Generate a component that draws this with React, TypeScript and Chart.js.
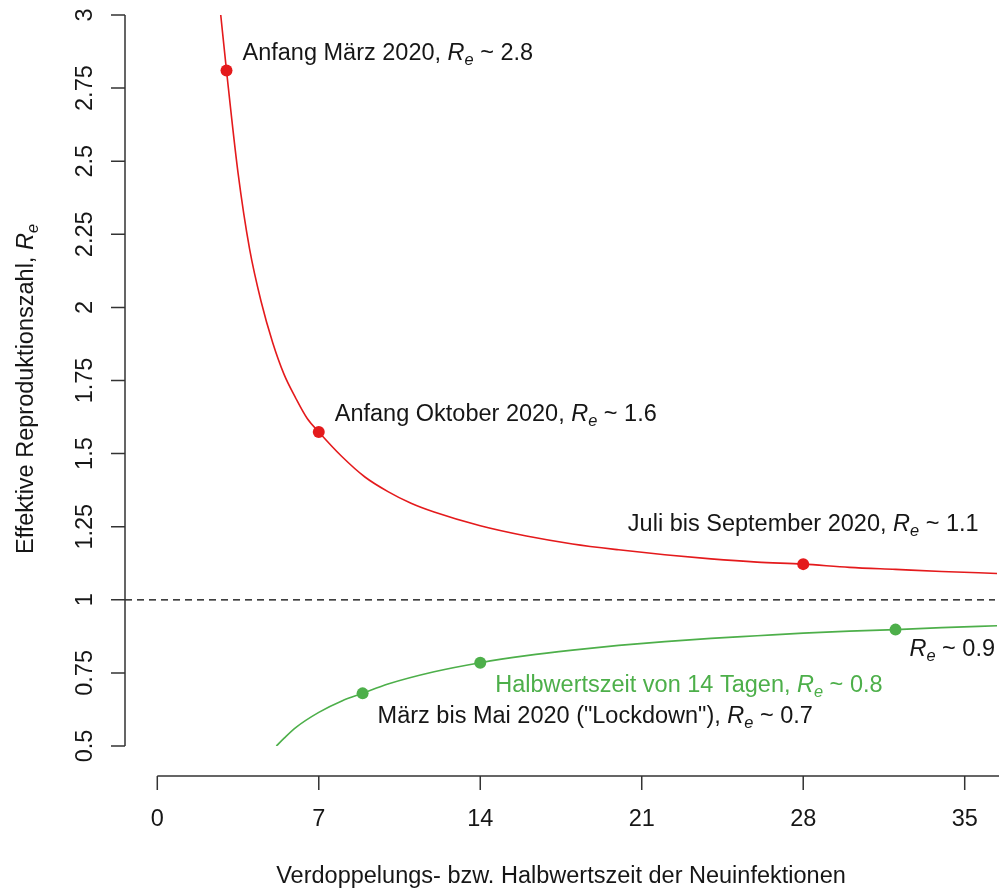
import React, { useEffect, useRef } from "react";
import { Chart, registerables } from "chart.js";
Chart.register(...registerables);

// ---- data ----
const redX = [2.75, 3, 3.5, 4, 4.5, 5, 5.5, 6, 6.5, 7, 8, 9, 10, 11, 12, 14, 16, 18, 20, 22, 24, 26, 28, 30, 32, 34, 36.4];
const redY = [3.0, 2.81, 2.46, 2.2, 2.02, 1.88, 1.77, 1.69, 1.62, 1.574, 1.49, 1.42, 1.37, 1.33, 1.3, 1.253, 1.218, 1.191, 1.171, 1.154, 1.14, 1.129, 1.122, 1.111, 1.104, 1.097, 1.09];
const greenX = [5.16, 5.5, 6, 7, 8, 8.9, 10, 12, 14, 16, 18, 20, 22, 24, 26, 28, 30, 32, 34, 36.4];
const greenY = [0.5, 0.527, 0.563, 0.615, 0.654, 0.68, 0.712, 0.754, 0.785, 0.809, 0.828, 0.844, 0.857, 0.868, 0.877, 0.886, 0.893, 0.898, 0.905, 0.911];

const redPtX = [3, 7, 28];
const redPtY = [2.81, 1.574, 1.122];
const greenPtX = [8.9, 14, 32];
const greenPtY = [0.68, 0.785, 0.898];

const xTicks = [0, 7, 14, 21, 28, 35];
const xTickLabels = ["0", "7", "14", "21", "28", "35"];
const yTicks = [0.5, 0.75, 1, 1.25, 1.5, 1.75, 2, 2.25, 2.5, 2.75, 3];
const yTickLabels = ["0.5", "0.75", "1", "1.25", "1.5", "1.75", "2", "2.25", "2.5", "2.75", "3"];

const xTitle = "Verdoppelungs- bzw. Halbwertszeit der Neuinfektionen";
const yTitlePrefix = "Effektive Reproduktionszahl, ";

const redLabelPrefix = ["Anfang März 2020, ", "Anfang Oktober 2020, ", "Juli bis September 2020, "];
const redLabelValue = ["2.8", "1.6", "1.1"];
const greenLabelPrefix = ["März bis Mai 2020 (\"Lockdown\"), ", "Halbwertszeit von 14 Tagen, ", ""];
const greenLabelValue = ["0.7", "0.8", "0.9"];

const RED = "#E41A1C";
const GREEN = "#4DAF4A";
const INK = "#161616";
const AXIS = "#333333";
const FONT = '"Liberation Sans", Arial, Helvetica, sans-serif';
const FS = 23.5;

type Seg = { t: string; s: "n" | "i" | "s" };

function fontFor(s: string) {
  if (s === "i") return `italic ${FS}px ${FONT}`;
  if (s === "s") return `italic ${(FS * 0.7).toFixed(1)}px ${FONT}`;
  return `${FS}px ${FONT}`;
}

function reSegs(prefix: string, value?: string): Seg[] {
  const out: Seg[] = [];
  if (prefix) out.push({ t: prefix, s: "n" });
  out.push({ t: "R", s: "i" });
  out.push({ t: "e", s: "s" });
  if (value !== undefined) out.push({ t: " ~ " + value, s: "n" });
  return out;
}

function drawSegs(ctx: CanvasRenderingContext2D, segs: Seg[], x: number, y: number, align: "left" | "center", color: string) {
  const widths = segs.map((sg) => {
    ctx.font = fontFor(sg.s);
    return ctx.measureText(sg.t).width;
  });
  const total = widths.reduce((a, b) => a + b, 0);
  let cx = align === "center" ? x - total / 2 : x;
  ctx.fillStyle = color;
  ctx.textAlign = "left";
  ctx.textBaseline = "alphabetic";
  segs.forEach((sg, i) => {
    ctx.font = fontFor(sg.s);
    ctx.fillText(sg.t, cx, sg.s === "s" ? y + 5 : y);
    cx += widths[i];
  });
}

const decorPlugin = {
  id: "decor",
  beforeDatasetsDraw(chart: any) {
    const { ctx, chartArea, scales } = chart;
    const ys = scales.y;
    ctx.save();
    ctx.strokeStyle = "#000";
    ctx.lineWidth = 1.3;
    ctx.setLineDash([7, 5]);
    const y1 = ys.getPixelForValue(1);
    ctx.beginPath();
    ctx.moveTo(chartArea.left, y1);
    ctx.lineTo(chartArea.right - 2, y1);
    ctx.stroke();
    ctx.restore();
  },
  afterDatasetsDraw(chart: any) {
    const { ctx, chartArea, scales } = chart;
    const xs = scales.x;
    const ys = scales.y;
    ctx.save();
    // y axis
    ctx.strokeStyle = AXIS;
    ctx.lineWidth = 1.5;
    ctx.setLineDash([]);
    const left = chartArea.left;
    ctx.beginPath();
    ctx.moveTo(left, ys.getPixelForValue(yTicks[0]));
    ctx.lineTo(left, ys.getPixelForValue(yTicks[yTicks.length - 1]));
    yTicks.forEach((v) => {
      const py = ys.getPixelForValue(v);
      ctx.moveTo(left, py);
      ctx.lineTo(left - 14, py);
    });
    ctx.stroke();
    // x axis
    const ax = chartArea.bottom + 30;
    ctx.beginPath();
    ctx.moveTo(xs.getPixelForValue(xTicks[0]), ax);
    ctx.lineTo(chartArea.right + 2, ax);
    xTicks.forEach((v) => {
      const px = xs.getPixelForValue(v);
      ctx.moveTo(px, ax);
      ctx.lineTo(px, ax + 14);
    });
    ctx.stroke();

    // tick labels
    ctx.fillStyle = INK;
    ctx.font = `${FS}px ${FONT}`;
    ctx.textAlign = "center";
    ctx.textBaseline = "alphabetic";
    xTicks.forEach((v, i) => {
      ctx.fillText(xTickLabels[i], xs.getPixelForValue(v), ax + 50);
    });
    yTicks.forEach((v, i) => {
      const py = ys.getPixelForValue(v);
      ctx.save();
      ctx.translate(left - 33, py);
      ctx.rotate(-Math.PI / 2);
      ctx.textAlign = "center";
      ctx.fillText(yTickLabels[i], 0, 0);
      ctx.restore();
    });

    // axis titles
    ctx.font = `${FS}px ${FONT}`;
    ctx.textAlign = "center";
    ctx.fillText(xTitle, 561, ax + 107);
    ctx.save();
    ctx.translate(33, 389);
    ctx.rotate(-Math.PI / 2);
    drawSegs(ctx, reSegs(yTitlePrefix), 0, 0, "center", INK);
    ctx.restore();

    // annotations for red points
    const rp = redPtX.map((x, i) => ({ x: xs.getPixelForValue(x), y: ys.getPixelForValue(redPtY[i]) }));
    drawSegs(ctx, reSegs(redLabelPrefix[0], redLabelValue[0]), rp[0].x + 16, rp[0].y - 10.5, "left", INK);
    drawSegs(ctx, reSegs(redLabelPrefix[1], redLabelValue[1]), rp[1].x + 16, rp[1].y - 10.5, "left", INK);
    drawSegs(ctx, reSegs(redLabelPrefix[2], redLabelValue[2]), rp[2].x, rp[2].y - 33.5, "center", INK);

    const gp = greenPtX.map((x, i) => ({ x: xs.getPixelForValue(x), y: ys.getPixelForValue(greenPtY[i]) }));
    drawSegs(ctx, reSegs(greenLabelPrefix[0], greenLabelValue[0]), gp[0].x + 15, gp[0].y + 30, "left", INK);
    drawSegs(ctx, reSegs(greenLabelPrefix[1], greenLabelValue[1]), gp[1].x + 15, gp[1].y + 29, "left", GREEN);
    drawSegs(ctx, reSegs(greenLabelPrefix[2], greenLabelValue[2]), gp[2].x + 14, gp[2].y + 26, "left", INK);
    ctx.restore();
  },
};

export default function App() {
  const ref = useRef<HTMLCanvasElement | null>(null);
  useEffect(() => {
    document.body.style.margin = "0";
    const canvas = ref.current;
    if (!canvas) return;
    const chart = new Chart(canvas, {
      type: "line",
      data: {
        datasets: [
          {
            label: "red points",
            data: redPtX.map((x, i) => ({ x, y: redPtY[i] })),
            showLine: false,
            pointRadius: 6,
            pointBackgroundColor: RED,
            pointBorderWidth: 0,
            borderColor: RED,
            order: 0,
          },
          {
            label: "green points",
            data: greenPtX.map((x, i) => ({ x, y: greenPtY[i] })),
            showLine: false,
            pointRadius: 6,
            pointBackgroundColor: GREEN,
            pointBorderWidth: 0,
            borderColor: GREEN,
            order: 0,
          },
          {
            label: "Verdoppelung",
            data: redX.map((x, i) => ({ x, y: redY[i] })),
            borderColor: RED,
            borderWidth: 1.6,
            pointRadius: 0,
            cubicInterpolationMode: "monotone",
            fill: false,
            order: 1,
          },
          {
            label: "Halbierung",
            data: greenX.map((x, i) => ({ x, y: greenY[i] })),
            borderColor: GREEN,
            borderWidth: 1.6,
            pointRadius: 0,
            cubicInterpolationMode: "monotone",
            fill: false,
            order: 1,
          },
        ],
      },
      options: {
        responsive: false,
        devicePixelRatio: 1,
        animation: false,
        layout: { padding: { left: 125, right: 1, top: 15, bottom: 144 } },
        scales: {
          x: { type: "linear", min: -1.4, max: 36.4, display: false },
          y: { type: "linear", min: 0.5, max: 3, display: false },
        },
        plugins: {
          legend: { display: false },
          tooltip: { enabled: false },
        },
      },
      plugins: [decorPlugin],
    } as any);
    return () => chart.destroy();
  }, []);
  return (
    <div style={{ width: 1003, height: 890, background: "#fff" }}>
      <canvas ref={ref} width={1003} height={890} style={{ display: "block" }} />
    </div>
  );
}
